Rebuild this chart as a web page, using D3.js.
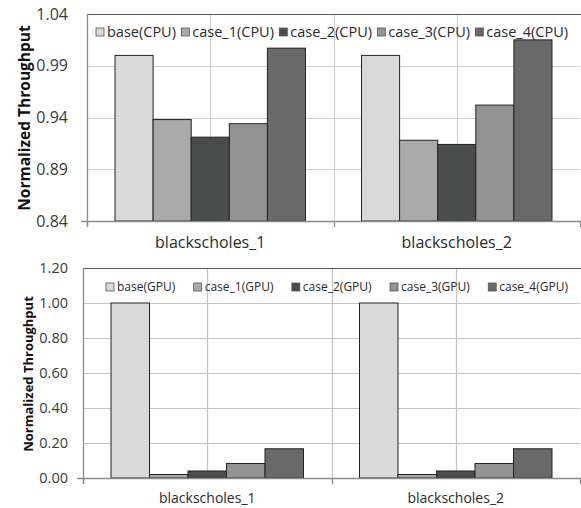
<!DOCTYPE html>
<html><head><meta charset="utf-8">
<script src="https://cdn.jsdelivr.net/npm/d3@7"></script>
<style>body{margin:0;background:#fff}svg{display:block}</style>
</head><body>
<svg id="c" width="581" height="508"></svg>
<script>
const categories = ["blackscholes_1", "blackscholes_2"];
const cpuSeries = ["base(CPU)", "case_1(CPU)", "case_2(CPU)", "case_3(CPU)", "case_4(CPU)"];
const gpuSeries = ["base(GPU)", "case_1(GPU)", "case_2(GPU)", "case_3(GPU)", "case_4(GPU)"];
// values[series][category]
const cpuValues = [
  [1.000, 1.000],
  [0.938, 0.918],
  [0.921, 0.914],
  [0.934, 0.952],
  [1.007, 1.015]
];
const gpuValues = [
  [1.00, 1.00],
  [0.02, 0.02],
  [0.04, 0.04],
  [0.083, 0.083],
  [0.167, 0.167]
];
const cpuTicks = [0.84, 0.89, 0.94, 0.99, 1.04];
const gpuTicks = [0, 0.2, 0.4, 0.6, 0.8, 1.0, 1.2];
const colors = ["#d9d9d9", "#aaaaaa", "#4b4d4c", "#939393", "#696969"];

const svg = d3.select("#c");
const FONT = "'Open Sans', sans-serif";

function panel(cfg) {
  const g = svg.append("g");
  const x0 = d3.scaleBand().domain(categories).range([cfg.left, cfg.right]);
  const pad = 28;
  const x1 = d3.scaleBand().domain(cfg.series).range([pad, x0.bandwidth() - pad]);
  const y = d3.scaleLinear().domain(cfg.domain).range([cfg.bottom, cfg.top]);

  // horizontal gridlines
  g.selectAll(".hg").data(cfg.ticks).enter().append("line")
    .attr("x1", cfg.left).attr("x2", cfg.right)
    .attr("y1", d => Math.round(y(d)) + 0.5).attr("y2", d => Math.round(y(d)) + 0.5)
    .attr("stroke", cfg.grid).attr("stroke-width", 1.2);
  // vertical gridlines (quarters)
  const vq = [];
  categories.forEach(c => { vq.push(x0(c) + x0.bandwidth() / 2); });
  vq.push(x0(categories[1]));
  g.selectAll(".vg").data(vq).enter().append("line")
    .attr("x1", d => Math.round(d) + 0.5).attr("x2", d => Math.round(d) + 0.5)
    .attr("y1", cfg.top).attr("y2", cfg.bottom)
    .attr("stroke", cfg.grid).attr("stroke-width", 1.2);

  // top border
  g.append("line").attr("x1", cfg.left).attr("x2", 581)
    .attr("y1", cfg.top + 0.5).attr("y2", cfg.top + 0.5)
    .attr("stroke", "#555").attr("stroke-width", 1.2);

  // bars
  cfg.series.forEach((s, i) => {
    g.selectAll(".b" + i).data(categories).enter().append("rect")
      .attr("x", c => x0(c) + x1(s))
      .attr("width", x1.bandwidth())
      .attr("y", (c, j) => y(cfg.values[i][j]))
      .attr("height", (c, j) => cfg.bottom - y(cfg.values[i][j]))
      .attr("fill", colors[i]).attr("stroke", "#222").attr("stroke-width", 1);
  });

  // axes lines
  g.append("line").attr("x1", cfg.left + 0.5).attr("x2", cfg.left + 0.5)
    .attr("y1", cfg.top).attr("y2", cfg.bottom + 6)
    .attr("stroke", "#8a8a8a").attr("stroke-width", 1.3);
  g.append("line").attr("x1", cfg.left - 6).attr("x2", 581)
    .attr("y1", cfg.bottom + 0.5).attr("y2", cfg.bottom + 0.5)
    .attr("stroke", "#8a8a8a").attr("stroke-width", 1.3);
  const xt = [cfg.left, x0(categories[1]), cfg.right];
  g.selectAll(".xt").data(xt).enter().append("line")
    .attr("x1", d => Math.round(d) + 0.5).attr("x2", d => Math.round(d) + 0.5)
    .attr("y1", cfg.bottom).attr("y2", cfg.bottom + 6)
    .attr("stroke", "#8a8a8a").attr("stroke-width", 1.3);

  // y tick labels
  g.selectAll(".yl").data(cfg.ticks).enter().append("text")
    .attr("x", cfg.left - cfg.labelGap).attr("y", d => y(d))
    .attr("dy", "0.35em").attr("text-anchor", "end")
    .attr("font-family", FONT).attr("font-size", cfg.tickSize)
    .attr("fill", "#3a3a3a")
    .text(d => d.toFixed(2));

  // x labels
  g.selectAll(".xl").data(categories).enter().append("text")
    .attr("x", c => x0(c) + x0.bandwidth() / 2).attr("y", cfg.xLabelY)
    .attr("text-anchor", "middle")
    .attr("font-family", FONT).attr("font-size", cfg.xSize)
    .attr("fill", "#2a2a2a")
    .text(c => c);

  // y title
  g.append("text")
    .attr("transform", `translate(${cfg.titleX},${cfg.titleY}) rotate(-90)`)
    .attr("text-anchor", "middle")
    .attr("font-family", FONT).attr("font-weight", "bold")
    .attr("font-size", cfg.titleSize).attr("fill", "#111")
    .text("Normalized Throughput");

  // legend
  const lg = g.append("g");
  const items = cfg.series.map((s, i) => {
    const it = lg.append("g");
    it.append("rect").attr("x", 0).attr("y", -4).attr("width", 8).attr("height", 8)
      .attr("fill", colors[i]).attr("stroke", "#555").attr("stroke-width", 0.8);
    const t = it.append("text").attr("x", 11).attr("y", 0).attr("dy", "0.35em")
      .attr("font-family", FONT).attr("font-size", cfg.legSize).attr("fill", "#2a2a2a")
      .text(s);
    return {it, w: 11 + t.node().getComputedTextLength()};
  });
  const total = d3.sum(items, d => d.w);
  const gap = (cfg.legEnd - cfg.legStart - total) / (items.length - 1);
  let cx = cfg.legStart;
  items.forEach(d => {
    d.it.attr("transform", `translate(${cx},${cfg.legY})`);
    cx += d.w + gap;
  });
}

panel({
  series: cpuSeries, values: cpuValues, ticks: cpuTicks, domain: [0.84, 1.04],
  left: 87, right: 580, top: 14, bottom: 221,
  grid: "#d0d0d0", labelGap: 19, tickSize: 16, xSize: 16, xLabelY: 248,
  titleX: 30, titleY: 118, titleSize: 15.5,
  legStart: 96, legEnd: 568, legY: 32, legSize: 14.5
});
panel({
  series: gpuSeries, values: gpuValues, ticks: gpuTicks, domain: [0, 1.2],
  left: 83, right: 580, top: 268, bottom: 478,
  grid: "#c4c4c4", labelGap: 15, tickSize: 14.5, xSize: 14, xLabelY: 503,
  titleX: 33, titleY: 374, titleSize: 13,
  legStart: 106, legEnd: 568, legY: 287, legSize: 12
});
</script>
</body></html>
